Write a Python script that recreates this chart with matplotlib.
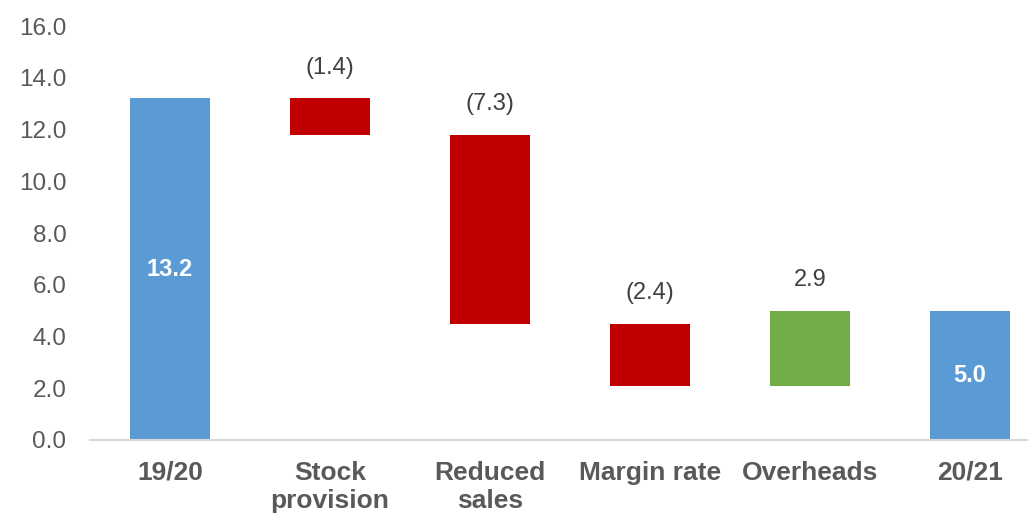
import matplotlib.pyplot as plt
import numpy as np

plt.rcParams['font.family'] = ['Liberation Sans', 'DejaVu Sans']

# data
categories = ['19/20', 'Stock\nprovision', 'Reduced\nsales', 'Margin rate', 'Overheads', '20/21']
start_value = 13.2
changes = [-1.4, -7.3, -2.4, 2.9]
end_value = 5.0

blue = '#5B9BD5'
red = '#C00000'
green = '#70AD47'

# running totals for floating bars
levels = start_value + np.concatenate([[0], np.cumsum(changes)])
bottoms = [min(levels[i], levels[i + 1]) for i in range(len(changes))]
heights = [abs(c) for c in changes]

fig = plt.figure(figsize=(10.28, 5.15), dpi=100)
ax = fig.add_axes([90 / 1028, 75 / 515, 938 / 1028, 414 / 515])

x = np.arange(len(categories))
w = 0.5

# totals
ax.bar(x[0], start_value, width=w, color=blue)
ax.bar(x[-1], end_value, width=w, color=blue)
ax.text(x[0], start_value / 2, f'{start_value:.1f}', ha='center', va='center',
        color='white', fontsize=17, fontweight='bold')
ax.text(x[-1], end_value / 2, f'{end_value:.1f}', ha='center', va='center',
        color='white', fontsize=17, fontweight='bold')

# changes
for i, (c, b, h) in enumerate(zip(changes, bottoms, heights)):
    ax.bar(x[i + 1], h, bottom=b, width=w, color=green if c > 0 else red)
    lbl = f'{c:.1f}' if c > 0 else f'({abs(c):.1f})'
    ax.annotate(lbl, (x[i + 1], b + h), xytext=(0, 22), textcoords='offset points',
                ha='center', va='center', fontsize=17, color='#404040')

ax.set_xlim(-0.5, (1028 - 90) / 160 - 0.5)
ax.set_ylim(0, 16)
ax.set_yticks(np.arange(0, 17, 2))
ax.set_yticklabels([f'{v:.1f}' for v in np.arange(0, 17, 2)])
ax.set_xticks(x)
ax.set_xticklabels(categories, fontweight='bold', linespacing=1.2)

ax.tick_params(axis='y', length=0, labelsize=17.5, labelcolor='#595959', pad=17)
ax.tick_params(axis='x', length=0, labelsize=19, labelcolor='#595959', pad=15)

for s in ['top', 'right', 'left']:
    ax.spines[s].set_visible(False)
ax.spines['bottom'].set_color('#D9D9D9')
ax.spines['bottom'].set_linewidth(1.5)

plt.savefig('out.png', dpi=100)
